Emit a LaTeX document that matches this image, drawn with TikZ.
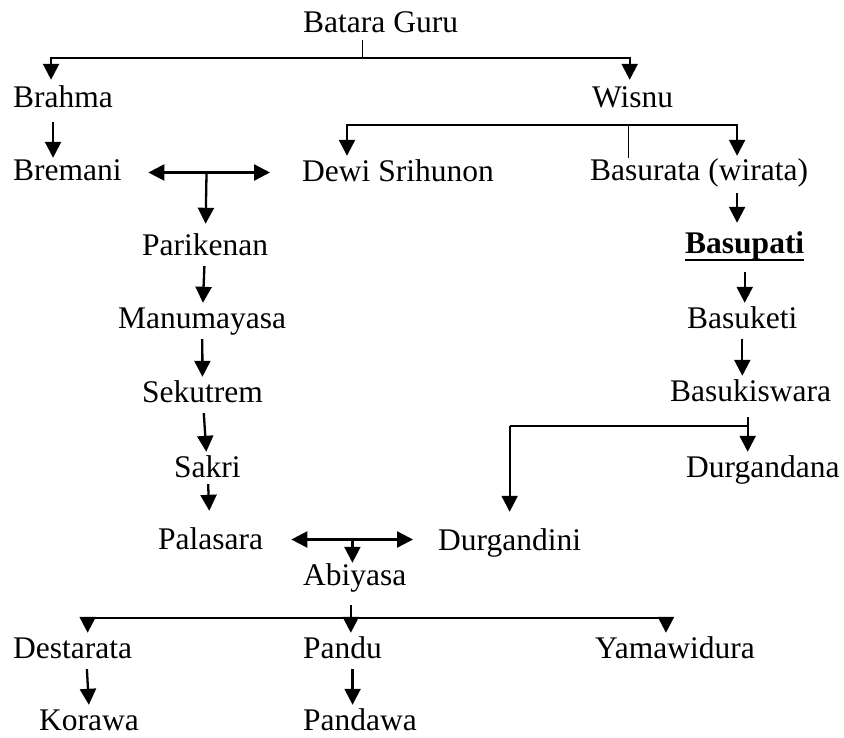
\documentclass[tikz,border=0pt]{standalone}
\usepackage{fontspec}
\setmainfont{Liberation Serif}
\usetikzlibrary{arrows.meta}

\begin{document}
\begin{tikzpicture}[x=1bp, y=-1bp,
  >={Triangle[length=16bp,width=16bp]},
  person/.style={anchor=base west, inner sep=0pt, text height=22bp, text depth=7bp,
    font=\fontsize{31.5bp}{38bp}\selectfont},
  arr/.style={->, line width=2.3bp, shorten <=4bp, shorten >=3bp},
  link/.style={line width=1.2bp}]
  \useasboundingbox (0,0) rectangle (844,738);
  \node[person] (guru) at (303,33) {Batara Guru};
  \node[person] (brahma) at (13,107) {Brahma};
  \node[person] (wisnu) at (592,107) {Wisnu};
  \node[person] (bremani) at (13,180) {Bremani};
  \node[person] (dewi) at (302,181) {Dewi Srihunon};
  \node[person] (basurata) at (590,180) {Basurata (wirata)};
  \node[person] (parikenan) at (142,255) {Parikenan};
  \node[person] (basupati) at (685,253) {\bfseries Basupati};
  \node[person] (manumayasa) at (118,328) {Manumayasa};
  \node[person] (basuketi) at (687,328) {Basuketi};
  \node[person] (sekutrem) at (142,402) {Sekutrem};
  \node[person] (basukiswara) at (670,401) {Basukiswara};
  \node[person] (sakri) at (174,477) {Sakri};
  \node[person] (durgandana) at (686,477) {Durgandana};
  \node[person] (palasara) at (158,549) {Palasara};
  \node[person] (durgandini) at (438,550) {Durgandini};
  \node[person] (abiyasa) at (303,585) {Abiyasa};
  \node[person] (destarata) at (13,658) {Destarata};
  \node[person] (pandu) at (303,658) {Pandu};
  \node[person] (yamawidura) at (595,658) {Yamawidura};
  \node[person] (korawa) at (39,730) {Korawa};
  \node[person] (pandawa) at (303,730) {Pandawa};

  \coordinate (guru-bar) at ([xshift=-18bp,yshift=-18bp]guru.south);
  \draw[link] (guru.south -| guru-bar) -- (guru-bar);
  \draw[arr, shorten <=0pt] (guru-bar) -| ([xshift=-12bp,yshift=2bp]brahma.north);
  \draw[arr, shorten <=0pt] (guru-bar) -| ([xshift=-3bp,yshift=2bp]wisnu.north);
  \draw[arr, shorten <=8bp, shorten >=0pt] ([xshift=-10bp]brahma.south) -- ([xshift=-10bp]brahma.south |- bremani.north);

  \coordinate (wisnu-bar) at ([xshift=-4bp,yshift=-11bp]wisnu.south);
  \draw[link] (wisnu-bar) -- (wisnu-bar |- basurata.north);
  \draw[arr, shorten <=0pt] (wisnu-bar) -| ([xshift=45bp]dewi.north west);
  \draw[arr, shorten <=0pt] (wisnu-bar) -| ([xshift=38bp,yshift=-1bp]basurata.north);

  \draw[arr, <->, shorten <=26.5bp, shorten >=32bp] (bremani.east) -- coordinate[pos=0.47] (bremani-mid) (bremani.east -| dewi.west);
  \draw[arr, shorten <=0pt, shorten >=9bp] (bremani-mid) -- (parikenan);
  \draw[arr] (parikenan) -- (manumayasa);
  \draw[arr] (manumayasa) -- (sekutrem);
  \draw[arr] (sekutrem) -- (sakri);
  \draw[arr, shorten <=0pt, shorten >=16bp] (sakri) -- (palasara);

  \draw[arr, <->, shorten <=28bp, shorten >=25bp] ([yshift=2bp]palasara.east) -- coordinate[pos=0.51] (palasara-mid) ([yshift=2bp]palasara.east -| durgandini.west);
  \draw[arr, shorten <=0pt, shorten >=0pt] (palasara-mid) -- (palasara-mid |- abiyasa.north);

  \coordinate (abiyasa-out) at ([xshift=-4bp,yshift=-13bp]abiyasa.south);
  \coordinate (abiyasa-bar) at ([yshift=-13bp]abiyasa-out);
  \draw[arr, shorten <=0pt] (abiyasa-out) -- (abiyasa-out |- pandu.north);
  \draw[arr, shorten <=0pt] (abiyasa-bar) -| ([xshift=15bp]destarata.north);
  \draw[arr, shorten <=0pt] (abiyasa-bar) -| ([xshift=-9bp]yamawidura.north);
  \draw[arr] ([xshift=14bp]destarata.south) -- (korawa.north);
  \draw[arr] ([xshift=10bp]pandu.south) -- ([xshift=10bp]pandu.south |- pandawa.north);

  \draw[arr, shorten <=6bp, shorten >=8bp] ([xshift=38bp]basurata.south) -- ([xshift=38bp]basurata.south |- basupati.north);
  \draw[line width=2.4bp] ([yshift=-7bp]basupati.base west) -- ([yshift=-7bp]basupati.base east);
  \draw[arr, shorten <=12bp] (basupati.south) -- (basupati.south |- basuketi.north);
  \draw[arr] (basuketi.south) -- (basuketi.south |- basukiswara.north);

  \coordinate (kiswara-out) at ([xshift=-3bp,yshift=-9bp]basukiswara.south);
  \coordinate (kiswara-bar) at ([yshift=-9bp]kiswara-out);
  \draw[arr, shorten <=0pt] (kiswara-out) -- (kiswara-out |- durgandana.north);
  \draw[line width=1.5bp] (kiswara-bar) -- (kiswara-bar -| durgandini);
  \draw[arr, shorten <=0pt, shorten >=16bp] (kiswara-bar -| durgandini) -- (durgandini.north);
\end{tikzpicture}
\end{document}
